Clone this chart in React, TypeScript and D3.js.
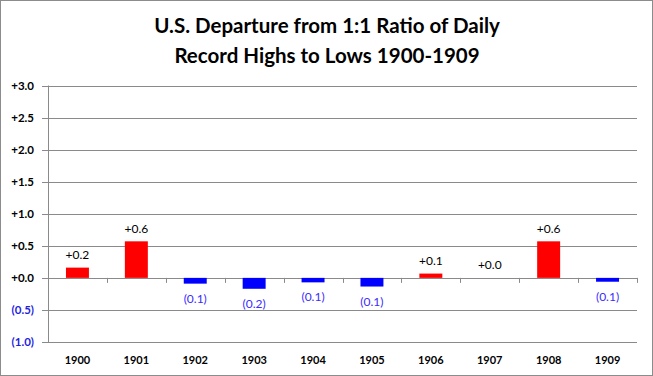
import React from "react";
import * as d3 from "d3";

const years = ["1900","1901","1902","1903","1904","1905","1906","1907","1908","1909"];
const values = [0.16, 0.57, -0.09, -0.17, -0.07, -0.135, 0.067, 0.0, 0.57, -0.06];
const labels = ["+0.2","+0.6","(0.1)","(0.2)","(0.1)","(0.1)","+0.1","+0.0","+0.6","(0.1)"];
const yTicks = [3.0, 2.5, 2.0, 1.5, 1.0, 0.5, 0.0, -0.5, -1.0];
const yTickLabels = ["+3.0","+2.5","+2.0","+1.5","+1.0","+0.5","+0.0","(0.5)","(1.0)"];
const titleLines = ["U.S. Departure from 1:1 Ratio of Daily", "Record Highs to Lows 1900-1909"];

const W = 653, H = 376;
const left = 48, right = 637, top = 85.5, bottom = 342;

export default function App() {
  const x = d3.scaleBand<string>().domain(years).range([left, right]).paddingInner(0).paddingOuter(0);
  const y = d3.scaleLinear().domain([-1, 3]).range([bottom, top]);
  const bw = x.bandwidth() * 0.39;
  const font = "Lato, 'Open Sans', sans-serif";
  return (
    <svg width={W} height={H} style={{ position: "absolute", left: 0, top: 0 }}>
      <rect x={0.5} y={0.5} width={W - 1} height={H - 1} fill="#fff" stroke="#8c8c8c" />
      {titleLines.map((t, i) => (
        <text key={i} x={327} y={33 + i * 30} textAnchor="middle" fontFamily={font} fontWeight="bold" fontSize={20.5} fill="#000">{t}</text>
      ))}
      {yTicks.map((t, i) => (
        <g key={i}>
          <line x1={left - 6} x2={right} y1={Math.round(y(t)) + 0.5} y2={Math.round(y(t)) + 0.5} stroke="#8a8a8a" strokeWidth={1} />
          <text x={34} y={y(t) + 4} textAnchor="end" fontFamily={font} fontWeight="bold" fontSize={11.5} fill={t < 0 ? "#1f1fe0" : "#000"}>{yTickLabels[i]}</text>
        </g>
      ))}
      <line x1={left + 0.5} x2={left + 0.5} y1={top} y2={bottom} stroke="#8a8a8a" />
      {years.map((yr, i) => i > 0 ? (
        <line key={yr} x1={Math.round(x(yr)!) + 0.5} x2={Math.round(x(yr)!) + 0.5} y1={y(0)} y2={y(0) + 5} stroke="#8a8a8a" />
      ) : null)}
      <line x1={right + 0.5} x2={right + 0.5} y1={y(0)} y2={y(0) + 5} stroke="#8a8a8a" />
      {years.map((yr, i) => {
        const v = values[i];
        const cx = x(yr)! + x.bandwidth() / 2;
        const y0 = y(0), y1 = y(v);
        return (
          <g key={yr}>
            <rect x={cx - bw / 2} y={Math.min(y0, y1)} width={bw} height={Math.abs(y1 - y0)} fill={v >= 0 ? "#ff0000" : "#0000ff"} />
            <text x={cx} y={v >= 0 ? y1 - 8.5 : y1 + 19} textAnchor="middle" fontFamily={font} fontSize={12} fill={v >= 0 ? "#000" : "#3a2bff"}>{labels[i]}</text>
            <text x={cx} y={364} textAnchor="middle" fontFamily={font} fontWeight="bold" fontSize={11} fill="#000">{yr}</text>
          </g>
        );
      })}
    </svg>
  );
}
